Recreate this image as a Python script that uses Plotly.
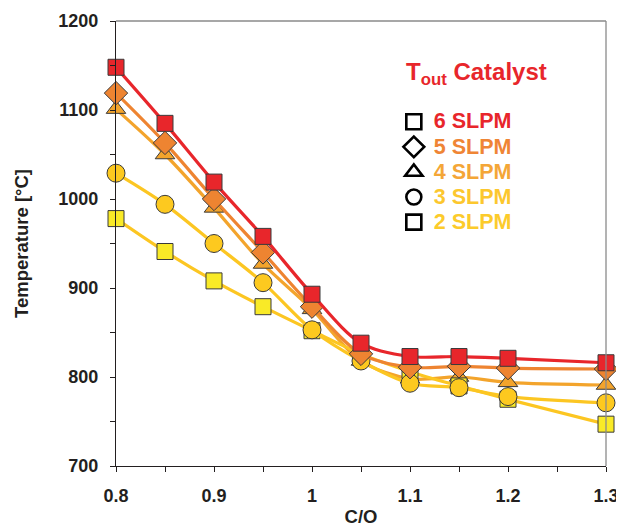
import plotly.graph_objects as go

co_ratio = [0.8, 0.85, 0.9, 0.95, 1.0, 1.05, 1.1, 1.15, 1.2, 1.3]
t_6slpm = [1148, 1085, 1019, 958, 893, 838, 823, 823, 821, 816]
t_5slpm = [1119, 1063, 1000, 940, 879, 826, 811, 812, 810, 809]
t_4slpm = [1101, 1050, 990, 927, 876, 818, 798, 800, 794, 791]
t_3slpm = [1029, 994, 950, 906, 853, 818, 793, 788, 778, 771]
t_2slpm = [978, 941, 908, 879, 852, 826, 806, 790, 775, 747]

series_names = ["6 SLPM", "5 SLPM", "4 SLPM", "3 SLPM", "2 SLPM"]

FONT = "Liberation Sans, Arial, sans-serif"
OUTLINE = "#3a3a3a"
DARK = "#231F20"

styles = {
    "6 SLPM": dict(y=t_6slpm, line="#E8262B", fill="#E8262B", symbol="square", size=16, text="#E8262B"),
    "5 SLPM": dict(y=t_5slpm, line="#EE8431", fill="#EE8431", symbol="diamond", size=18, text="#EF8535"),
    "4 SLPM": dict(y=t_4slpm, line="#F3A42C", fill="#F3A42C", symbol="triangle-up", size=17, text="#F4A637"),
    "3 SLPM": dict(y=t_3slpm, line="#FCC622", fill="#FDC91F", symbol="circle", size=18, text="#FCC72E"),
    "2 SLPM": dict(y=t_2slpm, line="#FCC622", fill="#F9EA27", symbol="square", size=16, text="#FCCB2B"),
}

fig = go.Figure()

# drawing order (bottom to top)
for name in ["4 SLPM", "2 SLPM", "3 SLPM", "5 SLPM", "6 SLPM"]:
    s = styles[name]
    fig.add_trace(go.Scatter(
        x=co_ratio, y=s["y"], mode="lines+markers", name=name, showlegend=False,
        line=dict(color=s["line"], width=3.2, shape="spline", smoothing=0.9),
        marker=dict(symbol=s["symbol"], size=s["size"], color=s["fill"],
                    line=dict(color=OUTLINE, width=1)),
        cliponaxis=False,
    ))

# legend entries: black open symbols, coloured text
for name in series_names:
    s = styles[name]
    fig.add_trace(go.Scatter(
        x=[None], y=[None], mode="markers",
        name=f"<span style='font-size:21.5px;color:{s['text']}'><b>{name}</b></span>",
        marker=dict(symbol=s["symbol"] + "-open", size=15 if s["symbol"] != "diamond" else 16,
                    color="black", line=dict(width=2.6)),
        showlegend=True,
    ))

axis_common = dict(
    showline=True, linecolor=DARK, linewidth=1.3,
    ticks="outside", ticklen=5, tickwidth=1, tickcolor=DARK,
    showgrid=False, zeroline=False, automargin=False,
    tickfont=dict(family=FONT, size=18, color=DARK, weight="bold"),
)

# the page body adds an 8px offset, so the figure is sized 8px smaller
fig.update_layout(
    width=616, height=519,
    margin=dict(l=108, r=18, t=13, b=61),
    paper_bgcolor="white", plot_bgcolor="white",
    xaxis=dict(
        range=[0.8, 1.3], dtick=0.1, tick0=0.8, ticklabelstandoff=8,
        minor=dict(dtick=0.05, ticks="outside", ticklen=5, tickcolor=DARK),
        title=dict(text="<b>C/O</b>", font=dict(family=FONT, size=18.5, color=DARK), standoff=5),
        **axis_common,
    ),
    yaxis=dict(
        range=[700, 1200], dtick=100, tick0=700, ticklabelstandoff=8,
        minor=dict(dtick=50, ticks="outside", ticklen=5, tickcolor=DARK),
        title=dict(text="<b>Temperature [°C]</b>", font=dict(family=FONT, size=18.5, color=DARK), standoff=24),
        **axis_common,
    ),
    legend=dict(
        x=0.567, y=0.813, xanchor="left", yanchor="top",
        bgcolor="rgba(0,0,0,0)", borderwidth=0,
        font=dict(family=FONT, size=17, color=DARK),
        tracegroupgap=0, itemclick=False,
    ),
    annotations=[
        dict(text="<b>T<sub>out</sub> Catalyst</b>", xref="paper", yref="paper",
             x=0.5878, y=0.883, xanchor="left", yanchor="middle", showarrow=False,
             font=dict(family=FONT, size=24, color="#E8262B")),
    ],
    shapes=[
        dict(type="line", xref="paper", yref="paper", x0=0, x1=1, y0=1, y1=1,
             line=dict(color="#8a8a8a", width=1.3)),
        dict(type="line", xref="paper", yref="paper", x0=1, x1=1, y0=0, y1=1,
             line=dict(color="#8a8a8a", width=1.3)),
    ],
)

fig.write_html("out.html")
